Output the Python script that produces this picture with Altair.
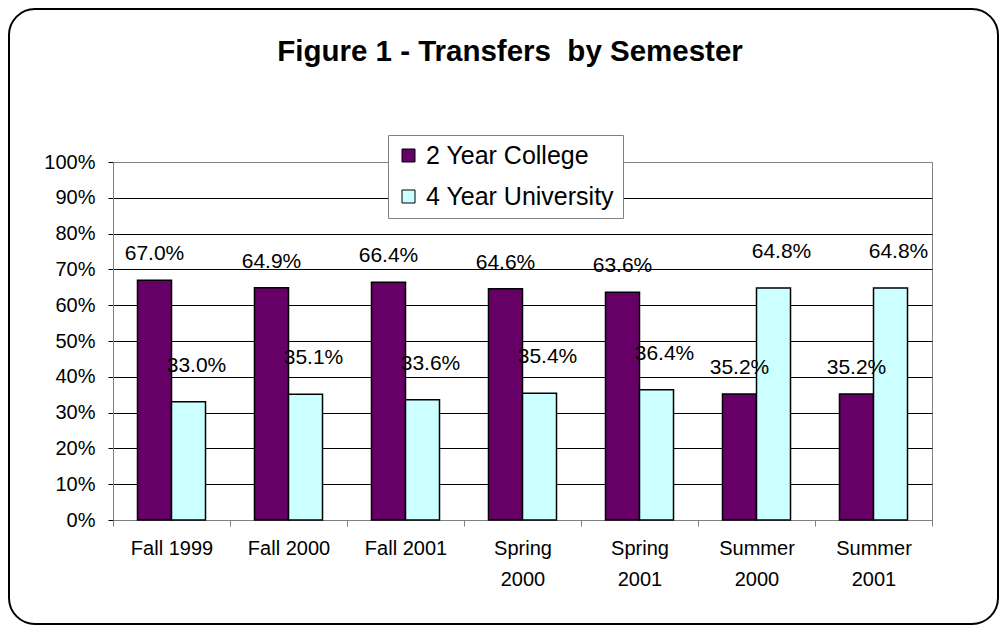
import altair as alt
import pandas as pd

semesters = ["Fall 1999", "Fall 2000", "Fall 2001", "Spring 2000",
             "Spring 2001", "Summer 2000", "Summer 2001"]
two_year = [67.0, 64.9, 66.4, 64.6, 63.6, 35.2, 35.2]
four_year = [33.0, 35.1, 33.6, 35.4, 36.4, 64.8, 64.8]
series_names = ["2 Year College", "4 Year University"]
colors = ["#660066", "#CCFFFF"]
y_ticks = [0, 0.1, 0.2, 0.3, 0.4, 0.5, 0.6, 0.7, 0.8, 0.9, 1.0]
TITLE = "Figure 1 - Transfers\u00a0 by Semester"

rows = []
for s, a, b in zip(semesters, two_year, four_year):
    rows.append({"semester": s, "series": series_names[0], "value": a / 100})
    rows.append({"semester": s, "series": series_names[1], "value": b / 100})
df = pd.DataFrame(rows)

FONT = "Liberation Sans"

x = alt.X("semester:N", sort=semesters, title=None,
          scale=alt.Scale(paddingInner=0, paddingOuter=0),
          axis=alt.Axis(labelAngle=0, labelFontSize=20, labelFont=FONT,
                        labelColor="black", tickBand="extent", tickSize=6,
                        tickColor="#808080", domainColor="#808080",
                        labelPadding=12, labelLineHeight=31, labelBaseline="top",
                        labelExpr="indexof(datum.label,'Fall')==0 ? datum.label : split(datum.label,' ')",
                        grid=False))
xo = alt.XOffset("series:N", sort=series_names,
                 scale=alt.Scale(paddingInner=0, paddingOuter=0.72))
y = alt.Y("value:Q", title=None, scale=alt.Scale(domain=[0, 1]),
          axis=alt.Axis(values=y_ticks, format=".0%", labelFontSize=20,
                        labelFont=FONT, labelColor="black", tickSize=5,
                        tickColor="black", domainColor="#808080",
                        labelPadding=13, grid=True,
                        gridColor={"condition": {"test": "datum.value >= 1", "value": "#808080"},
                                   "value": "#000000"},
                        gridOpacity=1))

bars = alt.Chart(df).mark_bar(stroke="black", strokeWidth=1.5).encode(
    x=x, xOffset=xo, y=y,
    color=alt.Color("series:N", sort=series_names,
                    scale=alt.Scale(domain=series_names, range=colors),
                    legend=alt.Legend(title=None, orient="none", legendX=275, legendY=-27,
                                      direction="vertical", labelFontSize=25,
                                      labelFont=FONT, labelColor="black", labelLimit=0,
                                      symbolType="square", symbolSize=169,
                                      symbolStrokeColor="black", symbolStrokeWidth=1,
                                      fillColor="white", strokeColor="#808080",
                                      padding=8, rowPadding=15, labelOffset=5)))

lab2 = alt.Chart(df).transform_filter(
    alt.datum.series == series_names[0]
).mark_text(fontSize=21, font=FONT, dy=-26, baseline="middle", color="black").encode(
    x=x, xOffset=xo, y=y, text=alt.Text("value:Q", format=".1%"))

lab4 = alt.Chart(df).transform_filter(
    alt.datum.series == series_names[1]
).mark_text(fontSize=21, font=FONT, dx=8, dy=-36, baseline="middle", color="black").encode(
    x=x, xOffset=xo, y=y, text=alt.Text("value:Q", format=".1%"))

frame = alt.Chart(alt.Data(values=[{}])).mark_rect(
    filled=False, stroke="black", strokeWidth=2, cornerRadius=26
).encode(x=alt.value(-104), x2=alt.value(885), y=alt.value(-153), y2=alt.value(462))

title = alt.Chart(alt.Data(values=[{"t": TITLE}])).mark_text(
    fontSize=29.5, fontWeight="bold", font=FONT, color="black", baseline="middle"
).encode(text="t:N", x=alt.value(397), y=alt.value(-110))

chart = alt.layer(frame, bars, lab2, lab4, title).properties(
    width=819, height=358,
    autosize=alt.AutoSizeParams(type="none"),
    padding={"left": 105, "top": 154, "right": 67, "bottom": 105},
    background="white",
).configure_view(stroke="#808080", strokeWidth=1)

chart.save("out.html", embed_options={"renderer": "svg", "actions": False})
